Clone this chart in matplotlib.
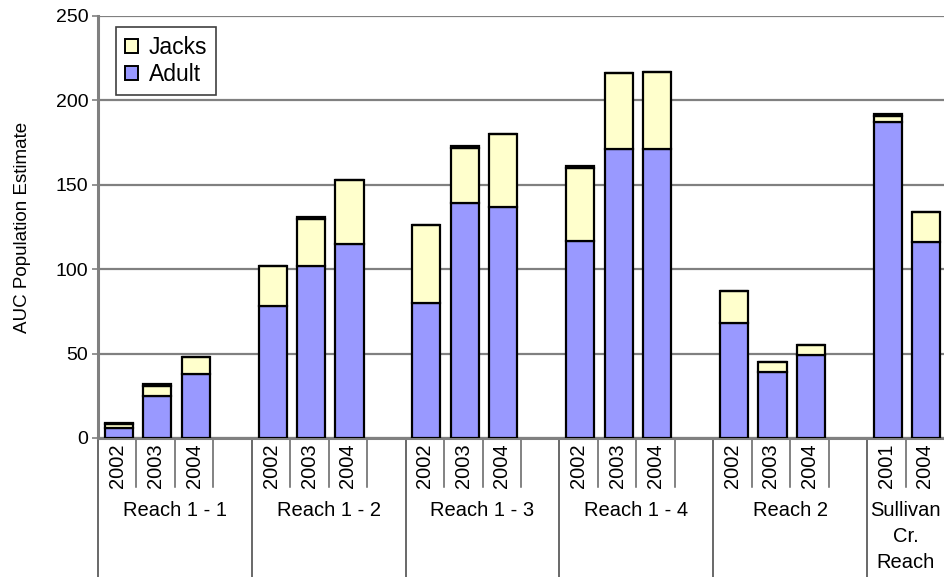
import matplotlib
matplotlib.use("Agg")
import matplotlib.pyplot as plt
import matplotlib.transforms as mtransforms
from matplotlib.patches import Patch
import numpy as np

plt.rcParams['font.family'] = ['Liberation Sans', 'DejaVu Sans']

# ---- data ----
groups = ["Reach 1 - 1", "Reach 1 - 2", "Reach 1 - 3", "Reach 1 - 4", "Reach 2", "Sullivan\nCr.\nReach"]
group_years = [
    ["2002", "2003", "2004", ""],
    ["2002", "2003", "2004", ""],
    ["2002", "2003", "2004", ""],
    ["2002", "2003", "2004", ""],
    ["2002", "2003", "2004", ""],
    ["2001", "2004"],
]
adult = [
    [6, 25, 38, None],
    [78, 102, 115, None],
    [80, 139, 137, None],
    [117, 171, 171, None],
    [68, 39, 49, None],
    [187, 116],
]
jacks = [
    [2, 6, 10, None],
    [24, 28, 38, None],
    [46, 33, 43, None],
    [43, 45, 46, None],
    [19, 6, 6, None],
    [4, 18],
]
other = [
    [1, 1, 0, None],
    [0, 1, 0, None],
    [0, 1, 0, None],
    [1, 0, 0, None],
    [0, 0, 0, None],
    [1, 0],
]
yticks = [0, 50, 100, 150, 200, 250]

# ---- flatten ----
year_labels = [y for g in group_years for y in g]
def flat(a):
    return np.array([np.nan if v is None else v for g in a for v in g], dtype=float)
A = flat(adult); J = flat(jacks); O = flat(other)
n = len(year_labels)
x = np.arange(n) + 0.5

W, H = 944, 577
fig = plt.figure(figsize=(W / 100, H / 100), dpi=100)
ax = fig.add_axes([98 / W, (H - 438) / H, (944 - 98) / W, (438 - 16) / H])

adult_c = "#9999FF"
jacks_c = "#FFFFCC"
bw = 0.73
ax.bar(x + 0.04, A, bw, color=adult_c, edgecolor="black", linewidth=1.6, zorder=3, label="Adult")
ax.bar(x + 0.04, J, bw, bottom=A, color=jacks_c, edgecolor="black", linewidth=1.6, zorder=3, label="Jacks")
ax.bar(x + 0.04, O, bw, bottom=A + J, color="black", edgecolor="black", linewidth=1.6, zorder=3)

ax.set_xlim(0, n)
ax.set_ylim(0, 250)
ax.set_yticks(yticks)
ax.yaxis.grid(True, color="#808080", linewidth=1.6, zorder=0)
ax.set_axisbelow(True)
ax.tick_params(axis="y", direction="out", length=4, width=1.2, color="#808080",
               labelsize=14, pad=3)
ax.set_ylabel("AUC Population Estimate", fontsize=13.5, labelpad=18)

for s in ["top", "right"]:
    ax.spines[s].set_visible(False)
ax.spines["left"].set_color("#808080")
ax.spines["left"].set_linewidth(2.2)
ax.spines["bottom"].set_color("#808080")
ax.spines["bottom"].set_linewidth(2.2)

# x categories
ax.set_xticks(x)
ax.set_xticklabels(year_labels, rotation=90, fontsize=14.5)
ax.tick_params(axis="x", length=0, pad=4)

trans = mtransforms.blended_transform_factory(ax.transData, ax.transAxes)
axh = 438 - 16
pos = 0
for gi, g in enumerate(groups):
    ng = len(group_years[gi])
    # group boundary
    ax.plot([pos, pos], [0, -0.36], transform=trans, color="#404040", lw=1.1, clip_on=False)
    for k in range(1, ng):
        ax.plot([pos + k, pos + k], [0, -49 / axh], transform=trans, color="#606060",
                lw=1.1, clip_on=False)
    cx = pos + ng / 2
    ax.text(cx, -(501 - 438) / axh, g, transform=trans, ha="center", va="top",
            fontsize=14.5, linespacing=1.45)
    pos += ng

# legend
handles = [Patch(facecolor=jacks_c, edgecolor="black", linewidth=1.4, label="Jacks"),
           Patch(facecolor=adult_c, edgecolor="black", linewidth=1.4, label="Adult")]
leg = ax.legend(handles=handles, loc="upper left",
                bbox_to_anchor=(116 / W, 1 - 27 / H), bbox_transform=fig.transFigure,
                fontsize=16.5, frameon=True, fancybox=False, edgecolor="#404040",
                framealpha=1, handlelength=0.6, handleheight=0.55, handletextpad=0.45,
                borderpad=0.38, labelspacing=0.18, borderaxespad=0)
leg.get_frame().set_linewidth(1.2)

fig.savefig("out.png", dpi=100)
